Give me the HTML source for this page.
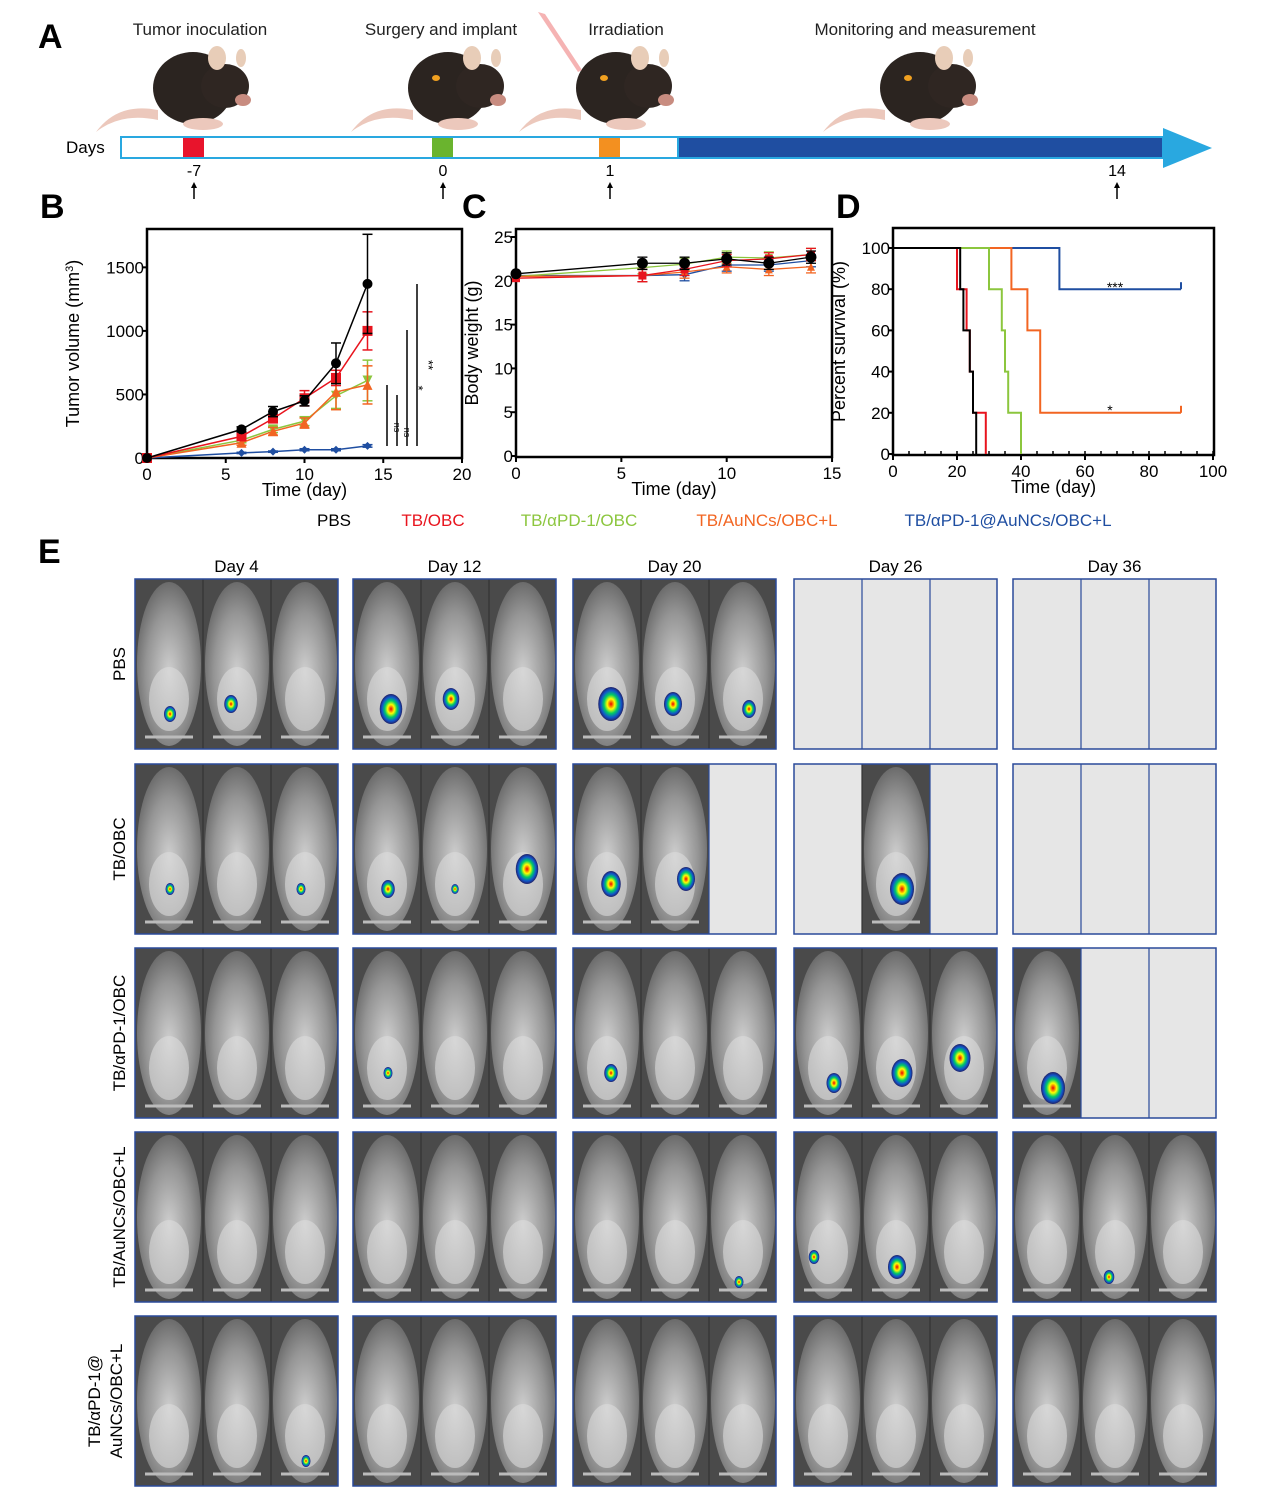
<!DOCTYPE html>
<html><head><meta charset="utf-8">
<style>
html,body{margin:0;padding:0;background:#fff;}
svg{display:block;font-family:"Liberation Sans",Arial,sans-serif;}
</style></head>
<body>
<svg id="fig" width="1267" height="1493" viewBox="0 0 1267 1493" xmlns="http://www.w3.org/2000/svg">
<defs>
<radialGradient id="mouseG" cx="50%" cy="55%" r="60%">
<stop offset="0" stop-color="#cfcfcf"/><stop offset="0.6" stop-color="#959595"/><stop offset="1" stop-color="#606060"/>
</radialGradient>
<radialGradient id="lum" cx="50%" cy="50%" r="50%">
<stop offset="0" stop-color="#e00"/><stop offset="0.3" stop-color="#ff0"/><stop offset="0.55" stop-color="#0c6"/><stop offset="0.8" stop-color="#15c"/><stop offset="1" stop-color="#226"/>
</radialGradient>
</defs>
<g id="panelA"></g>
<g id="panelB"></g>
<g id="panelC"></g>
<g id="panelD"></g>
<g id="legend"></g>
<g id="panelE"></g>
</svg>
<script>
// ---- data ----
const groupNames=["PBS","TB/OBC","TB/αPD-1/OBC","TB/AuNCs/OBC+L","TB/αPD-1@AuNCs/OBC+L"];
const groupColors=["#000","#e8141e","#8cc63e","#f26522","#1f4ea1"];
const tumorDays=[0,6,8,10,12,14];
const tumorPBS=[0,225,365,450,745,1370];
const tumorOBC=[0,170,310,470,630,1000];
const tumorPD1=[0,140,225,290,490,610];
const tumorAu=[0,120,210,275,520,575];
const tumorCombo=[0,40,50,65,65,95];
const tumorErr=[[0,20,40,40,160,390],[0,25,30,60,60,150],[0,20,25,35,100,160],[0,20,30,40,140,150],[0,5,5,8,8,10]];
const weightDays=[0,6,8,10,12,14];
const weightPBS=[20.8,22,22,22.5,22,22.7];
const weightOBC=[20.3,20.6,21.3,22.3,22.5,23];
const weightPD1=[20.5,21.5,21.9,22.7,22.6,23];
const weightAu=[20.5,20.6,21,21.6,21.3,21.6];
const weightCombo=[20.6,20.6,20.7,21.8,21.8,22.3];
const survPBS=[[0,100],[21,80],[22,60],[24,40],[25,20],[26,0]];
const survOBC=[[0,100],[20,80],[23,60],[24,40],[25,20],[29,0]];
const survPD1=[[0,100],[30,80],[34,60],[35,40],[36,20],[40,0]];
const survAu=[[0,100],[37,80],[42,60],[46,20],[90,20]];
const survCombo=[[0,100],[52,80],[90,80]];
const xTicksB=[0,5,10,15,20], yTicksB=[0,500,1000,1500];
const xTicksC=[0,5,10,15], yTicksC=[0,5,10,15,20,25];
const xTicksD=[0,20,40,60,80,100], yTicksD=[0,20,40,60,80,100];

const NS="http://www.w3.org/2000/svg";
function el(parent,tag,attrs,text){const e=document.createElementNS(NS,tag);for(const k in attrs)e.setAttribute(k,attrs[k]);if(text!==undefined)e.textContent=text;parent.appendChild(e);return e;}

// ---- Panel A ----
const A=document.getElementById('panelA');
let t=el(A,'text',{x:38,y:48,'font-size':34,'font-weight':'bold'},'A');

const stages=[["Tumor inoculation",200,185],["Surgery and implant",441,440],["Irradiation",626,608],["Monitoring and measurement",925,912]];
stages.forEach((s,i)=>{
  let tx=el(A,'text',{x:s[1],y:35,'font-size':17,'text-anchor':'middle',fill:'#222'},s[0]);
  
  const g=el(A,'g',{});
  
  const cx=s[2]+8;
  el(g,'path',{d:`M${cx-35} 110 q-40 -8 -62 22 q25 -20 62 -12`,fill:'#ecc8bc'});
  el(g,'ellipse',{cx:cx,cy:88,rx:40,ry:36,fill:'#2b2420'});
  el(g,'ellipse',{cx:cx+32,cy:86,rx:24,ry:22,fill:'#2f2622'});
  el(g,'ellipse',{cx:cx+24,cy:58,rx:9,ry:12,fill:'#e8cdb8'});
  el(g,'ellipse',{cx:cx+48,cy:58,rx:5,ry:9,fill:'#e8cdb8'});
  el(g,'ellipse',{cx:cx+50,cy:100,rx:8,ry:6,fill:'#c88c80'});
  el(g,'ellipse',{cx:cx+10,cy:124,rx:20,ry:6,fill:'#ecc8bc'});
  if(i>0) el(g,'ellipse',{cx:cx-12,cy:78,rx:4,ry:3,fill:'#f0a020'});
});
el(A,'polygon',{points:'538,12 545,14 582,70 578,72',fill:'#f2a0a0',opacity:0.8});
t=el(A,'text',{x:66,y:153,'font-size':17},'Days');
let r=el(A,'rect',{x:121,y:137,width:1050,height:21,fill:'#fff',stroke:'#29a8e0','stroke-width':2});

el(A,'rect',{x:678,y:137,width:485,height:21,fill:'#1f4ea1',stroke:'#29a8e0','stroke-width':2});
el(A,'rect',{x:1163,y:137,width:4,height:21,fill:'#29a8e0'});
el(A,'polygon',{points:'1163,128 1212,148 1163,168',fill:'#29a8e0'});
el(A,'rect',{x:183,y:138,width:21,height:19,fill:'#e8142c'});
el(A,'rect',{x:432,y:138,width:21,height:19,fill:'#6ab42e'});
el(A,'rect',{x:599,y:138,width:21,height:19,fill:'#f39020'});
[["-7",194],["0",443],["1",610],["14",1117]].forEach(d=>{
  let tx=el(A,'text',{x:d[1],y:176,'font-size':16,'text-anchor':'middle'},d[0]);
  
  el(A,'line',{x1:d[1],y1:186,x2:d[1],y2:199,stroke:'#000','stroke-width':1.5});
  el(A,'polygon',{points:`${d[1]-3},188 ${d[1]+3},188 ${d[1]},182`,fill:'#000'});
});

// ---- generic axes ----
function axes(G,box,xt,yt,xs,ys,xlab,ylab,label,lx,yoff){
  let t=el(G,'text',{x:lx,y:218,'font-size':34,'font-weight':'bold'},label);
  
  let b=el(G,'rect',{x:box[0],y:box[1],width:box[2]-box[0],height:box[3]-box[1],fill:'none',stroke:'#000','stroke-width':2.5});
  
  xt.forEach(v=>{el(G,'line',{x1:xs(v),y1:box[3],x2:xs(v),y2:box[3]+5,stroke:'#000','stroke-width':2});
    let tx=el(G,'text',{x:xs(v),y:box[3]+22,'font-size':17,'text-anchor':'middle'},v);
    });
  yt.forEach(v=>{el(G,'line',{x1:box[0]-5,y1:ys(v),x2:box[0],y2:ys(v),stroke:'#000','stroke-width':2});
    let tx=el(G,'text',{x:box[0]-3,y:ys(v)+6,'font-size':17,'text-anchor':'end'},v);
    });
  let xl=el(G,'text',{x:(box[0]+box[2])/2,y:box[3]+38,'font-size':18,'text-anchor':'middle'},xlab);
  
  let yx=box[0]-yoff,yy=(box[1]+box[3])/2;
  let yl=el(G,'text',{x:yx,y:yy,'font-size':18,'text-anchor':'middle',transform:`rotate(-90 ${yx} ${yy})`});
  yl.innerHTML=ylab;
  
}
function marker(G,type,x,y,c,s){
  if(type==='circle')return el(G,'circle',{cx:x,cy:y,r:s,fill:c});
  if(type==='square')return el(G,'rect',{x:x-s,y:y-s,width:2*s,height:2*s,fill:c});
  if(type==='tri')return el(G,'polygon',{points:`${x-s},${y+s} ${x+s},${y+s} ${x},${y-s}`,fill:c});
  if(type==='tridown')return el(G,'polygon',{points:`${x-s},${y-s} ${x+s},${y-s} ${x},${y+s}`,fill:c});
  return el(G,'polygon',{points:`${x-s},${y} ${x},${y-s} ${x+s},${y} ${x},${y+s}`,fill:c});
}
const markerTypes=['circle','square','tridown','tri','diamond'];
const drawOrder=[4,2,3,1,0];

// ---- Panel B ----
const B=document.getElementById('panelB');
const boxB=[147,229,462,458];
const xsB=v=>147+v*15.75, ysB=v=>458-v*0.1271;
axes(B,boxB,xTicksB,yTicksB,xsB,ysB,'Time (day)','Tumor volume (mm<tspan baseline-shift="super" font-size="11">3</tspan>)','B',40,68);
const tumorSeries=[tumorPBS,tumorOBC,tumorPD1,tumorAu,tumorCombo];
drawOrder.forEach(gi=>{
  const vals=tumorSeries[gi],c=groupColors[gi];
  let p=el(B,'polyline',{points:tumorDays.map((d,i)=>xsB(d)+','+ysB(vals[i])).join(' '),fill:'none',stroke:c,'stroke-width':1.5});
  
  tumorDays.forEach((d,i)=>{
    const e=tumorErr[gi][i];
    if(e>0){el(B,'line',{x1:xsB(d),y1:ysB(vals[i]-e),x2:xsB(d),y2:ysB(vals[i]+e),stroke:c,'stroke-width':1.5});
      el(B,'line',{x1:xsB(d)-5,y1:ysB(vals[i]+e),x2:xsB(d)+5,y2:ysB(vals[i]+e),stroke:c,'stroke-width':1.5});
      el(B,'line',{x1:xsB(d)-5,y1:ysB(vals[i]-e),x2:xsB(d)+5,y2:ysB(vals[i]-e),stroke:c,'stroke-width':1.5});}
    let m=marker(B,markerTypes[gi],xsB(d),ysB(vals[i]),c,gi===4?4:5);
    
  });
});
[[387,385,'ns'],[397,395,'ns'],[407,330,'*'],[417,284,'**']].forEach(s=>{
  el(B,'line',{x1:s[0],y1:446,x2:s[0],y2:s[1],stroke:'#000','stroke-width':1.5});
  let tx=el(B,'text',{x:s[0]+7,y:(446+s[1])/2+(s[2]==='ns'?12:0),'font-size':s[2]==='ns'?9:13,transform:`rotate(90 ${s[0]+7} ${(446+s[1])/2+(s[2]==='ns'?12:0)})`,'text-anchor':'middle'},s[2]);
  
});

// ---- Panel C ----
const C=document.getElementById('panelC');
const boxC=[516,229,832,457];
const xsC=v=>516+v*21.07, ysC=v=>456-v*8.76;
axes(C,boxC,xTicksC,yTicksC,xsC,ysC,'Time (day)','Body weight (g)','C',462,38);
const weightSeries=[weightPBS,weightOBC,weightPD1,weightAu,weightCombo];
drawOrder.forEach(gi=>{
  const vals=weightSeries[gi],c=groupColors[gi];
  let p=el(C,'polyline',{points:weightDays.map((d,i)=>xsC(d)+','+ysC(vals[i])).join(' '),fill:'none',stroke:c,'stroke-width':1.3});
  
  weightDays.forEach((d,i)=>{
    if(i>0){const e=0.7;
      el(C,'line',{x1:xsC(d),y1:ysC(vals[i]-e),x2:xsC(d),y2:ysC(vals[i]+e),stroke:c,'stroke-width':1.3});
      el(C,'line',{x1:xsC(d)-5,y1:ysC(vals[i]+e),x2:xsC(d)+5,y2:ysC(vals[i]+e),stroke:c,'stroke-width':1.3});
      el(C,'line',{x1:xsC(d)-5,y1:ysC(vals[i]-e),x2:xsC(d)+5,y2:ysC(vals[i]-e),stroke:c,'stroke-width':1.3});}
    let m=marker(C,markerTypes[gi],xsC(d),ysC(vals[i]),c,gi===0?5.5:4);
    
  });
});

// ---- Panel D ----
const D=document.getElementById('panelD');
const boxD=[893,228,1214,455];
const xsD=v=>893+v*3.2, ysD=v=>454-v*2.06;
axes(D,boxD,xTicksD,yTicksD,xsD,ysD,'Time (day)','Percent survival (%)','D',836,48);
for(let v=0;v<=100;v+=5){el(D,'line',{x1:xsD(v),y1:454,x2:xsD(v),y2:451,stroke:'#000','stroke-width':1.5});}
const survSeries=[survPBS,survOBC,survPD1,survAu,survCombo];
[4,3,2,1,0].forEach(gi=>{
  const s=survSeries[gi];let pts=[];
  s.forEach((p,i)=>{ if(i>0)pts.push([p[0],s[i-1][1]]); pts.push(p);});
  let pl=el(D,'polyline',{points:pts.map(p=>xsD(p[0])+','+ysD(p[1])).join(' '),fill:'none',stroke:groupColors[gi],'stroke-width':2});
  
  const last=s[s.length-1];
  if(last[1]>0)el(D,'line',{x1:xsD(last[0]),y1:ysD(last[1]),x2:xsD(last[0]),y2:ysD(last[1])-7,stroke:groupColors[gi],'stroke-width':2});
});
t=el(D,'text',{x:1115,y:292,'font-size':14,'text-anchor':'middle'},'***');
t=el(D,'text',{x:1110,y:415,'font-size':14,'text-anchor':'middle'},'*');

// ---- Legend ----
const L=document.getElementById('legend');
const legX=[334,433,579,767,1008];
groupNames.forEach((n,i)=>{
  let tx=el(L,'text',{x:legX[i],y:526,'font-size':17,'text-anchor':'middle',fill:groupColors[i]},n);
  
});

// ---- Panel E ----
const E=document.getElementById('panelE');
t=el(E,'text',{x:38,y:563,'font-size':34,'font-weight':'bold'},'E');
const dayLabels=["Day 4","Day 12","Day 20","Day 26","Day 36"];
const colX=[135,353,573,794,1013], colW=203;
const rowY=[579,764,948,1132,1316], rowH=170;
const rowLabels=[["PBS"],["TB/OBC"],["TB/αPD-1/OBC"],["TB/AuNCs/OBC+L"],["TB/αPD-1@","AuNCs/OBC+L"]];
const alive=[[3,3,3,0,0],[3,3,2,-1,0],[3,3,3,3,1],[3,3,3,3,3],[3,3,3,3,3]];
const spots=[[0,0,0,45,135,8],[0,0,1,38,125,9],[0,1,0,48,130,15],[0,1,1,40,120,11],[0,2,0,48,125,17],[0,2,1,42,125,12],[0,2,2,50,130,9],
[1,0,0,45,125,6],[1,0,2,40,125,6],[1,1,0,45,125,9],[1,1,1,44,125,5],[1,1,2,48,105,15],[1,2,0,48,120,13],[1,2,1,55,115,12],[1,3,1,50,125,16],
[2,1,0,45,125,6],[2,2,0,48,125,9],[2,3,0,50,135,10],[2,3,1,50,125,14],[2,3,2,40,110,14],[2,4,0,50,140,16],
[3,2,2,40,150,6],[3,3,0,30,125,7],[3,3,1,45,135,12],[3,4,1,38,145,7],[4,0,2,45,145,6]];
dayLabels.forEach((d,c)=>{
  let tx=el(E,'text',{x:colX[c]+colW/2,y:572,'font-size':17,'text-anchor':'middle'},d);
  
});
rowLabels.forEach((lines,rI)=>{
  const cy=rowY[rI]+rowH/2;
  lines.forEach((ln,k)=>{
    const x=lines.length>1?100+k*22:125;
    let tx=el(E,'text',{x:x,y:cy,'font-size':17,'text-anchor':'middle',transform:`rotate(-90 ${x} ${cy})`},ln);
    
  });
});
rowY.forEach((y,rI)=>{
  colX.forEach((x,cI)=>{
    const g=el(E,'g',{});
    
    const n=alive[rI][cI];
    const sw=[68,68,67];
    for(let m=0;m<3;m++){
      const mx=x+m*68;
      const isAlive = n===-1 ? (m===1) : (m<n);
      if(isAlive){
        el(g,'rect',{x:mx,y:y,width:sw[m],height:rowH,fill:'#4a4a4a'});
        el(g,'ellipse',{cx:mx+34,cy:y+85,rx:32,ry:82,fill:'url(#mouseG)'});
        el(g,'ellipse',{cx:mx+34,cy:y+120,rx:20,ry:32,fill:'#dcdcdc',opacity:0.6});
        el(g,'line',{x1:mx+10,y1:y+158,x2:mx+58,y2:y+158,stroke:'#bbb','stroke-width':3});
      } else {
        el(g,'rect',{x:mx,y:y,width:sw[m],height:rowH,fill:'#e6e6e6'});
      }
      if(m>0)el(g,'line',{x1:mx,y1:y,x2:mx,y2:y+rowH,stroke:isAlive?'#333':'#2a4a9a','stroke-width':1.2});
    }
    el(g,'rect',{x:x,y:y,width:colW,height:rowH,fill:'none',stroke:'#2a4a9a','stroke-width':1.5});
  });
});
spots.forEach(s=>{
  const cx=colX[s[1]]+s[2]*68+s[3]-10, cy=rowY[s[0]]+s[4];
  let sp=el(E,'ellipse',{cx:cx,cy:cy,rx:s[5]*0.75,ry:s[5],fill:'url(#lum)'});
  
});
</script>
</body></html>
